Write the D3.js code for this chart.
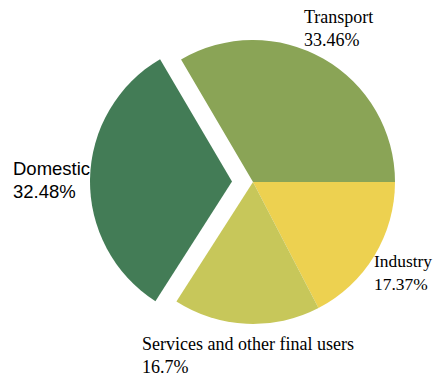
<!DOCTYPE html>
<html>
<head>
<meta charset="utf-8">
<script src="https://cdn.jsdelivr.net/npm/d3@7"></script>
<style>
  html, body { margin: 0; padding: 0; background: #fff; }
  svg { display: block; }
</style>
</head>
<body>
<svg id="chart" width="433" height="380"></svg>
<script>
// Final energy consumption by sector (share of total, %)
const sectors = ["Transport", "Industry", "Services and other final users", "Domestic"];
const shares = [33.46, 17.37, 16.7, 32.48];
const shareLabels = ["33.46%", "17.37%", "16.7%", "32.48%"];
const colors = ["#8aa456", "#edd150", "#c7c75a", "#437c56"];
const exploded = ["Domestic"];

const svg = d3.select("#chart");
const cx = 253, cy = 182, radius = 142, explodeOffset = 21;

const data = sectors.map((s, i) => ({ sector: s, value: shares[i], label: shareLabels[i], color: colors[i] }));

// Transport begins so that its far edge lands at 3 o'clock
const total = d3.sum(shares);
const startAngle = Math.PI / 2 - (shares[0] / total) * 2 * Math.PI;

const pie = d3.pie()
  .value(d => d.value)
  .sort(null)
  .startAngle(startAngle)
  .endAngle(startAngle + 2 * Math.PI);

const arc = d3.arc().innerRadius(0).outerRadius(radius);

const g = svg.append("g").attr("transform", `translate(${cx},${cy})`);

g.selectAll("path")
  .data(pie(data))
  .join("path")
  .attr("d", arc)
  .attr("fill", d => d.data.color)
  .attr("transform", d => {
    if (!exploded.includes(d.data.sector)) return null;
    const mid = (d.startAngle + d.endAngle) / 2;
    return `translate(${explodeOffset * Math.sin(mid)},${-explodeOffset * Math.cos(mid)})`;
  });

// Sector labels: name on the first line, share on the second
const serif = "'Liberation Serif', 'Times New Roman', serif";
const labelSpecs = {
  "Transport": { x: 304, y: 23, font: serif, size: 18 },
  "Industry": { x: 374, y: 267, font: serif, size: 17.4 },
  "Services and other final users": { x: 142, y: 350, font: serif, size: 18 },
  "Domestic": { x: 13, y: 175, font: "'Liberation Sans', Arial, sans-serif", size: 18.5 }
};

data.forEach(d => {
  const spec = labelSpecs[d.sector];
  const t = svg.append("text")
    .attr("x", spec.x)
    .attr("y", spec.y)
    .attr("font-family", spec.font)
    .attr("font-size", spec.size)
    .attr("fill", "#000");
  t.append("tspan").attr("x", spec.x).text(d.sector);
  t.append("tspan").attr("x", spec.x).attr("dy", 22.5).text(d.label);
});
</script>
</body>
</html>
